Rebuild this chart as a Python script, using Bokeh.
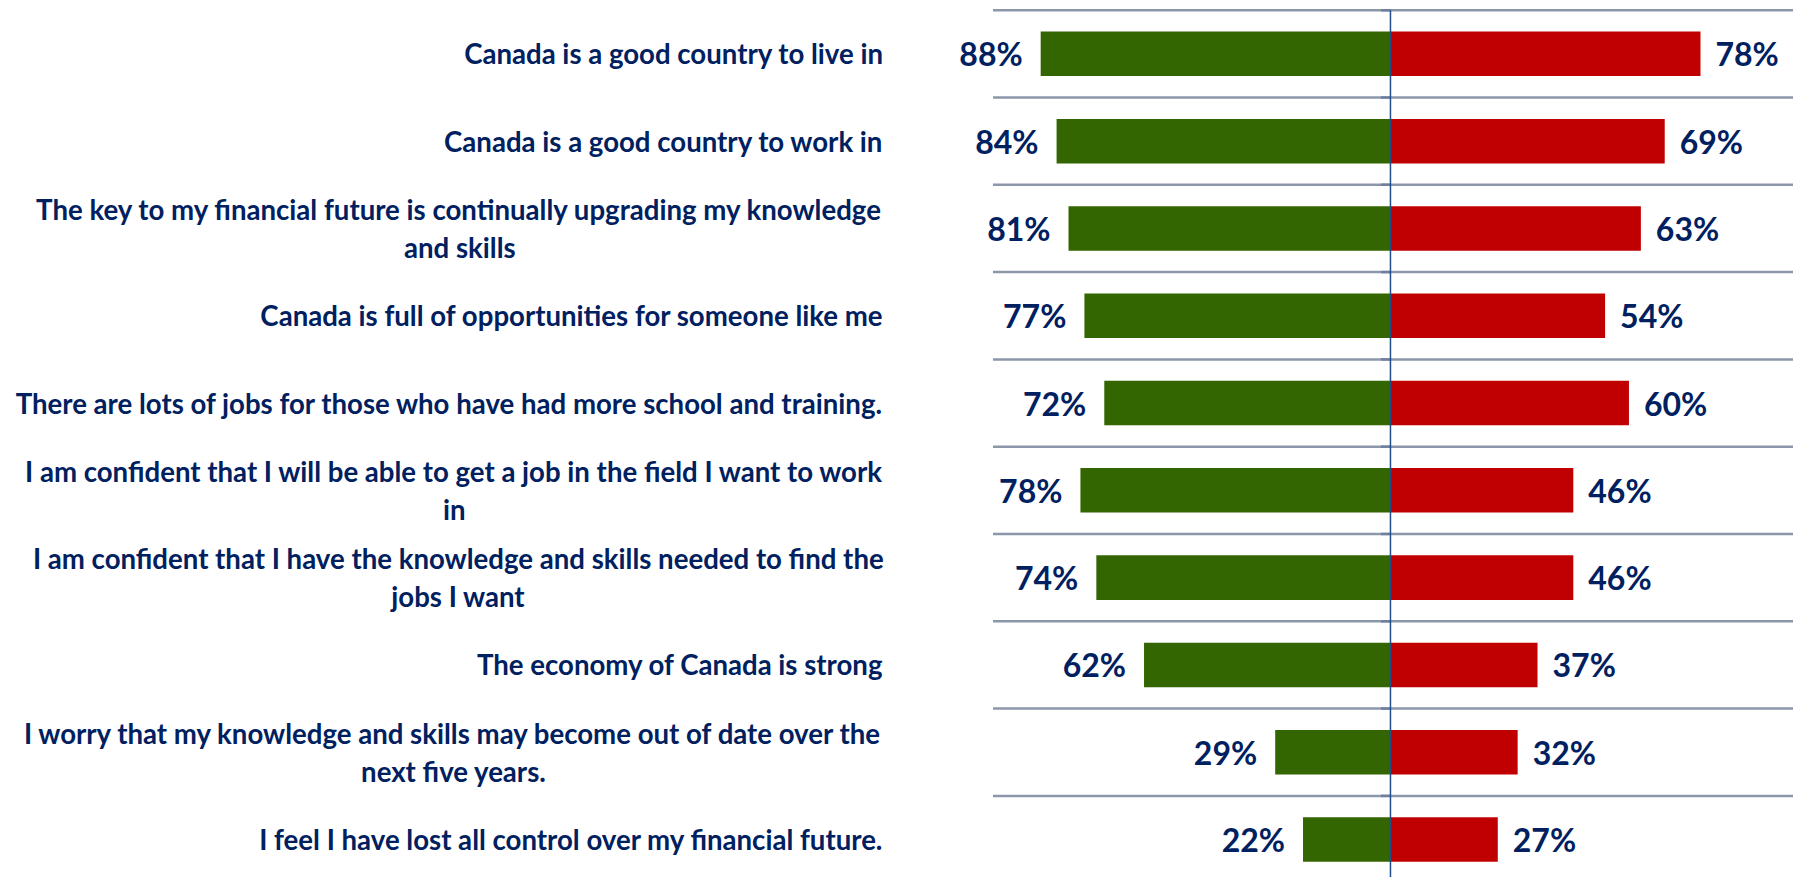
from bokeh.plotting import figure
from bokeh.models import Range1d, ColumnDataSource
from bokeh.core.properties import value
from bokeh.embed import file_html
from bokeh.resources import INLINE

# Survey statements, top to bottom
statements = [
    "Canada is a good country to live in",
    "Canada is a good country to work in",
    "The key to my financial future is continually upgrading my knowledge\nand skills",
    "Canada is full of opportunities for someone like me",
    "There are lots of jobs for those who have had more school and training.",
    "I am confident that I will be able to get a job in the field I want to work\nin",
    "I am confident that I have the knowledge and skills needed to find the\njobs I want",
    "The economy of Canada is strong",
    "I worry that my knowledge and skills may become out of date over the\nnext five years.",
    "I feel I have lost all control over my financial future.",
]
green_pct = [88, 84, 81, 77, 72, 78, 74, 62, 29, 22]
red_pct = [78, 69, 63, 54, 60, 46, 46, 37, 32, 27]

GREEN = "#336600"
RED = "#C00000"
NAVY = "#002060"
GRID = "#8D97AB"
FONT = value("Lato")

n = len(statements)
rows = [i + 0.5 for i in range(n)]

src = ColumnDataSource(dict(
    y=rows,
    neg=[-g for g in green_pct],
    pos=red_pct,
    glab=[f"{g}%" for g in green_pct],
    rlab=[f"{r}%" for r in red_pct],
    stmt=statements,
))

p = figure(
    width=1793, height=877,
    x_range=Range1d(-349.7, 101.4),
    y_range=Range1d(9.935, -0.111),
    output_backend="svg", toolbar_location=None,
    x_axis_location=None, y_axis_location=None,
    min_border=0, min_border_left=0, min_border_right=0,
    min_border_top=0, min_border_bottom=0,
)
p.outline_line_color = None
p.xgrid.visible = False
p.ygrid.visible = False

# row separators
seps = list(range(n))
p.segment(x0=[-100] * n, x1=[101.4] * n, y0=seps, y1=seps,
          line_color=GRID, line_width=2.5)
# small ticks on the centre axis
p.segment(x0=[-2.4] * n, x1=[0] * n, y0=seps, y1=seps,
          line_color="#6F7FA0", line_width=2.5)

# bars
p.hbar(y="y", left="neg", right=0, height=0.51, source=src,
       fill_color=GREEN, line_color=None)
p.hbar(y="y", left=0, right="pos", height=0.51, source=src,
       fill_color=RED, line_color=None)

# centre axis line
p.segment(x0=[0], x1=[0], y0=[0], y1=[n], line_color="#1F4E8C", line_width=1.5)

# value labels
p.text(x="neg", y="y", text="glab", source=src, x_offset=-18,
       text_align="right", text_baseline="middle",
       text_font=FONT, text_font_style="bold", text_font_size="32px",
       text_color=NAVY)
p.text(x="pos", y="y", text="rlab", source=src, x_offset=15,
       text_align="left", text_baseline="middle",
       text_font=FONT, text_font_style="bold", text_font_size="32px",
       text_color=NAVY)

# statement labels, block right-anchored, lines centred
p.text(x=-127.5, y="y", text="stmt", source=src,
       anchor="center_right", text_align="center", text_baseline="middle",
       text_font=FONT, text_font_style="bold", text_font_size="27.6px",
       text_color=NAVY, text_line_height=1.15)

open("out.html", "w").write(file_html(p, INLINE))
